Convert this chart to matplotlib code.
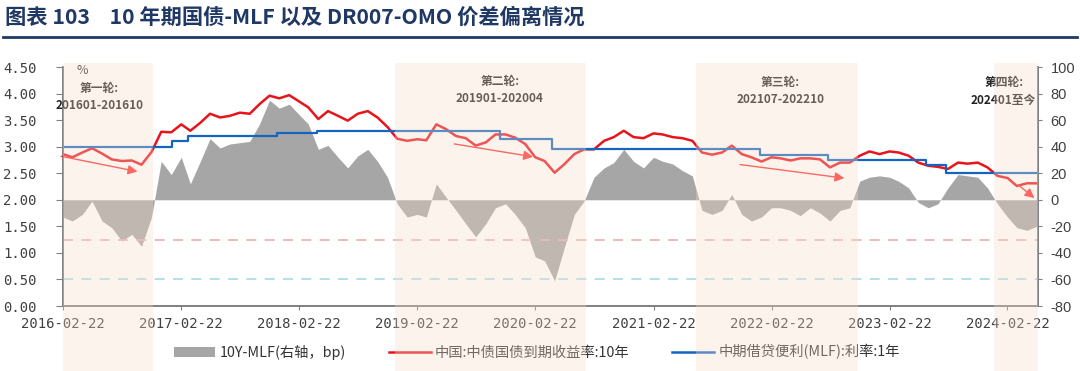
import matplotlib
matplotlib.use('Agg')
import matplotlib.pyplot as plt
import matplotlib.dates as mdates
import matplotlib.transforms as mtransforms
from matplotlib.patches import Rectangle, Patch
from matplotlib.lines import Line2D
import pandas as pd

plt.rcParams['font.family'] = ['Noto Sans CJK SC', 'DejaVu Sans']

# monthly readings, 22nd of each month from 2016-02 to 2024-05
dates = pd.date_range('2016-02-01', periods=100, freq='MS') + pd.Timedelta(days=21)

yield_10y = [2.86, 2.80, 2.89, 2.97, 2.87, 2.76, 2.73, 2.74, 2.66, 2.90,
             3.28, 3.27, 3.42, 3.30, 3.45, 3.62, 3.55, 3.58, 3.64, 3.62,
             3.80, 3.96, 3.91, 3.97, 3.85, 3.74, 3.52, 3.67, 3.58, 3.49,
             3.62, 3.67, 3.55, 3.37, 3.15, 3.11, 3.14, 3.12, 3.42, 3.33,
             3.20, 3.16, 3.02, 3.08, 3.23, 3.23, 3.17, 3.05, 2.80, 2.73,
             2.51, 2.67, 2.86, 2.95, 2.95, 3.11, 3.18, 3.30, 3.18, 3.16,
             3.25, 3.23, 3.18, 3.16, 3.11, 2.89, 2.85, 2.89, 3.02, 2.86,
             2.80, 2.72, 2.80, 2.78, 2.74, 2.78, 2.78, 2.76, 2.61, 2.70,
             2.70, 2.83, 2.91, 2.86, 2.91, 2.89, 2.83, 2.70, 2.64, 2.62,
             2.58, 2.70, 2.68, 2.70, 2.61, 2.45, 2.41, 2.26, 2.31, 2.31]

spread_bp = [-13, -16, -11, -1, -16, -21, -31, -26, -35, -13,
             29, 19, 32, 12, 29, 46, 39, 42, 43, 44,
             57, 75, 69, 72, 64, 57, 38, 41, 32, 24,
             33, 38, 29, 17, -3, -13, -11, -13, 12, 2,
             -8, -18, -28, -18, -6, -3, -11, -21, -43, -46,
             -61, -36, -11, -1, 17, 24, 28, 38, 29, 24,
             32, 29, 27, 22, 18, -8, -11, -8, 4, -11,
             -16, -13, -6, -6, -8, -12, -6, -10, -16, -8,
             -6, 14, 17, 18, 17, 14, 9, -2, -6, -3,
             9, 19, 18, 17, 9, -3, -13, -21, -23, -20]

mlf_dates = ['2016-02-22', '2017-01-24', '2017-03-16', '2017-12-14', '2018-04-17',
             '2019-11-05', '2020-04-15', '2022-01-17', '2022-08-15', '2023-06-15',
             '2023-08-15', '2024-05-26']
mlf_rate = [3.00, 3.10, 3.20, 3.25, 3.30, 3.15, 2.95, 2.85, 2.75, 2.65, 2.50, 2.50]

# easing rounds
round_start = ['2016-02-22', '2018-12-15', '2021-07-02', '2024-01-12']
round_end = ['2016-11-28', '2020-07-29', '2022-11-18', '2024-05-26']
round_title = ['第一轮:', '第二轮:', '第三轮:', '第四轮:']
round_period = ['201601-201610', '201901-202004', '202107-202210', '202401至今']
round_label_x = ['2016-06-14', '2019-11-05', '2022-03-22', '2024-02-10']
round_title_y = [4.10, 4.22, 4.20, 4.20]
round_period_y = [3.78, 3.91, 3.88, 3.88]

# trend arrows: (start date, start value, end date, end value)
arrows = [('2016-02-08', 2.83, '2016-10-18', 2.52),
          ('2019-06-08', 3.06, '2020-02-24', 2.80),
          ('2021-11-08', 2.67, '2022-10-14', 2.40),
          ('2024-03-20', 2.31, '2024-05-22', 2.00)]

year_ticks = pd.to_datetime([f'{y}-02-22' for y in range(2016, 2025)])

fig = plt.figure(figsize=(10.8, 3.71), dpi=100)
ax = fig.add_axes([0.0583, 0.1752, 0.9027, 0.6442])
ax2 = ax.twinx()
ax.set_zorder(ax2.get_zorder() + 1)
ax.patch.set_visible(False)

ax2.fill_between(dates, 0, spread_bp, color='#A6A6A6', lw=0)
ax2.axhline(-30, color='#E8AFAF', lw=1.2, ls=(0, (6, 5)))
ax2.axhline(-60, color='#A9D9E8', lw=1.2, ls=(0, (6, 5)))

ax.plot(dates, yield_10y, color='#E8141C', lw=1.8)
ax.step(pd.to_datetime(mlf_dates), mlf_rate, where='post', color='#1565C0', lw=1.6)

for s_d, s_v, e_d, e_v in arrows:
    ax.annotate('', xy=(pd.Timestamp(e_d), e_v), xytext=(pd.Timestamp(s_d), s_v),
                arrowprops=dict(arrowstyle='-|>', color='#FF3030', lw=1.0, mutation_scale=14),
                annotation_clip=False)

for lx, t, p, ty, py in zip(round_label_x, round_title, round_period, round_title_y, round_period_y):
    ax.text(pd.Timestamp(lx), ty, t, ha='center', va='center', fontsize=8.5,
            weight='bold', color='#222222')
    ax.text(pd.Timestamp(lx), py, p, ha='center', va='center', fontsize=8.5,
            weight='bold', color='#222222')
ax.text(0.02, 0.985, '%', transform=ax.transAxes, ha='center', va='center',
        fontsize=9, color='#333333')

ax.set_xlim(pd.Timestamp('2016-02-22'), pd.Timestamp('2024-05-26'))
ax.set_ylim(0, 4.5)
ax2.set_ylim(-80, 100)
ax.set_yticks([i * 0.5 for i in range(10)])
ax.set_yticklabels([f'{i * 0.5:.2f}' for i in range(10)], family='DejaVu Sans Mono', fontsize=10)
ax2.set_yticks(range(-80, 101, 20))
ax2.set_yticklabels([str(v) for v in range(-80, 101, 20)], family='Liberation Sans', fontsize=10.5)
ax.set_xticks(year_ticks)
ax.set_xticklabels([d.strftime('%Y-%m-%d') for d in year_ticks], family='DejaVu Sans Mono', fontsize=10)

for a in (ax, ax2):
    a.spines['top'].set_visible(False)
    for sp in ('left', 'right', 'bottom'):
        a.spines[sp].set_color('#808080')
        a.spines[sp].set_linewidth(1.2)
ax.tick_params(axis='y', length=5, pad=14, colors='#404040', color='#808080')
ax.tick_params(axis='x', length=3, pad=5, colors='#404040', color='#808080')
ax2.tick_params(axis='y', length=3, pad=6, colors='#404040', color='#808080')

# shaded rounds drawn over everything
trans = mtransforms.blended_transform_factory(ax.transData, fig.transFigure)
for s, e in zip(round_start, round_end):
    x0 = mdates.date2num(pd.Timestamp(s))
    x1 = mdates.date2num(pd.Timestamp(e))
    fig.add_artist(Rectangle((x0, 0), x1 - x0, 0.83, transform=trans,
                             facecolor='#F8DCC9', alpha=0.32, edgecolor='none', zorder=10))

handles = [Patch(facecolor='#A6A6A6', edgecolor='none'),
           Line2D([], [], color='#E8141C', lw=1.8),
           Line2D([], [], color='#1565C0', lw=1.8)]
labels = ['10Y-MLF(右轴，bp)', '中国:中债国债到期收益率:10年', '中期借贷便利(MLF):利率:1年']
fig.legend(handles, labels, loc='center', bbox_to_anchor=(0.497, 0.051), ncol=3,
           frameon=False, fontsize=10.3, handlelength=2.9, handletextpad=0.3,
           columnspacing=3.0, labelcolor='#333333')

fig.text(0.005, 0.954, '图表 103    10 年期国债-MLF 以及 DR007-OMO 价差偏离情况',
         ha='left', va='center', fontsize=15.3, weight='bold', color='#1F3864')
fig.add_artist(Line2D([0.003, 0.997], [0.900, 0.900], transform=fig.transFigure,
                      color='#1F3864', lw=2))

fig.savefig('out.png', dpi=100)
